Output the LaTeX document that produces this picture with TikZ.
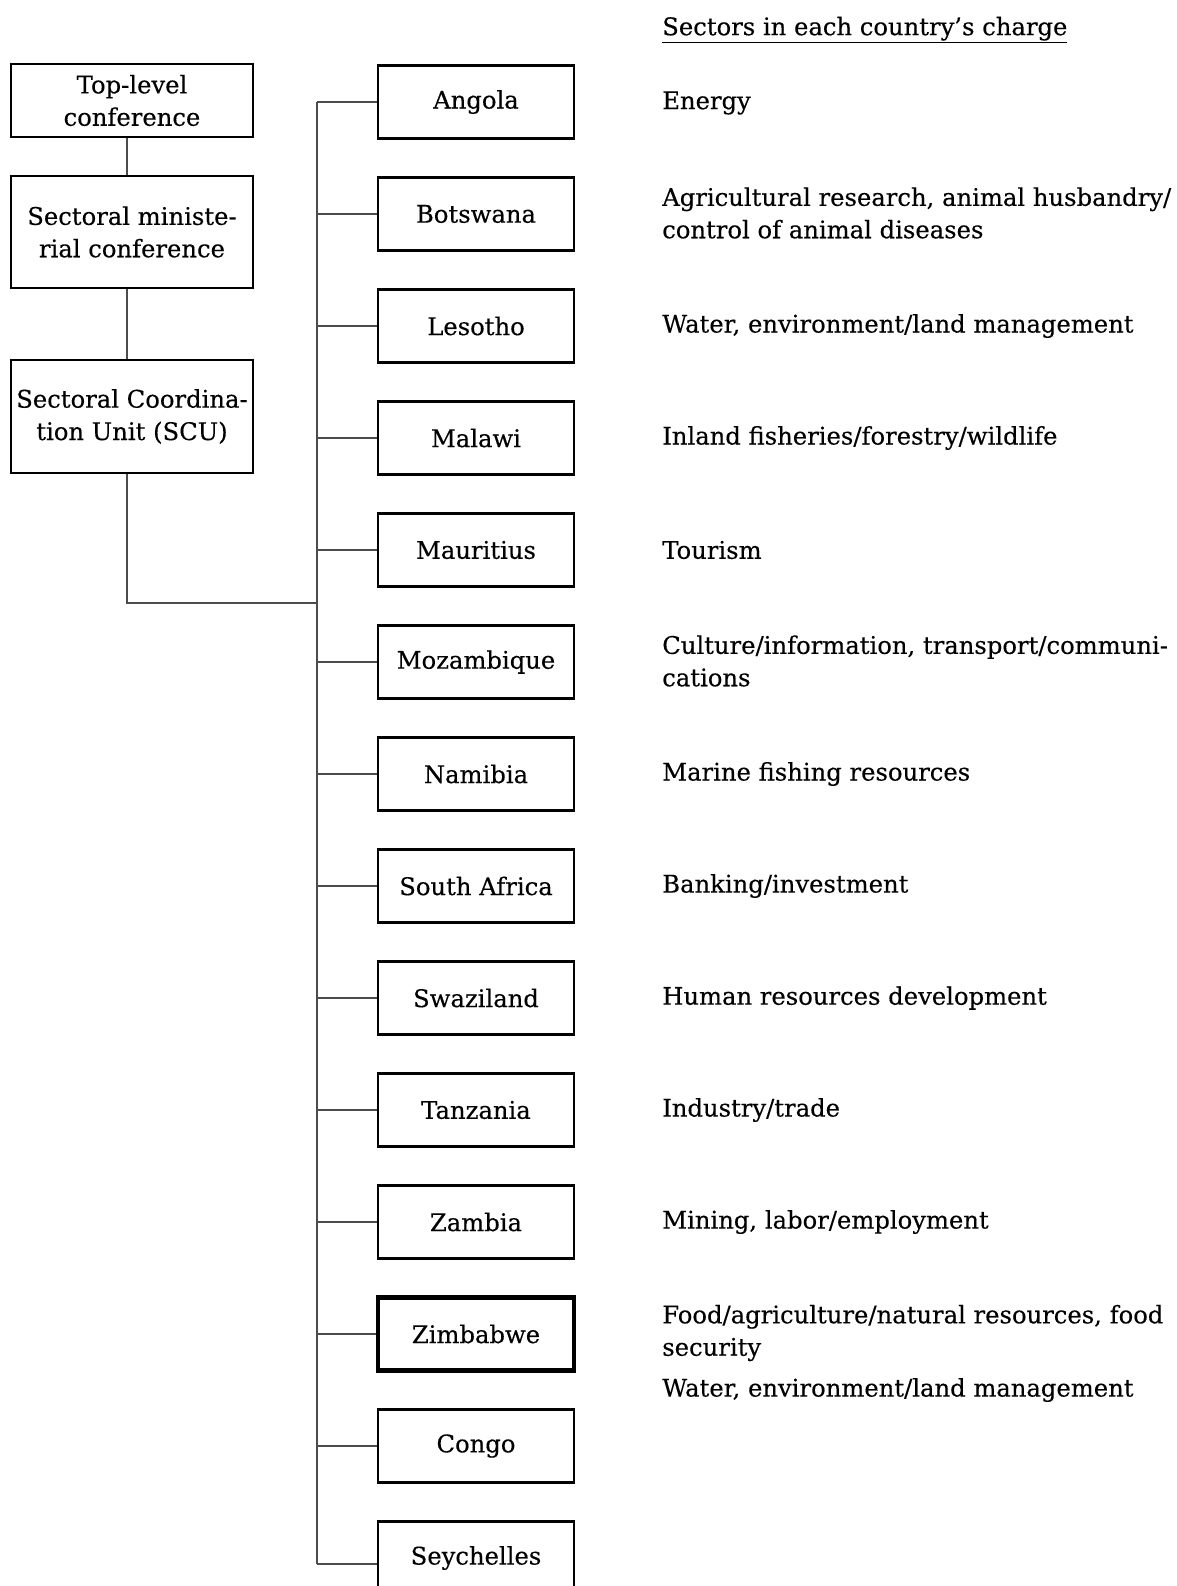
\documentclass[tikz,border=0pt]{standalone}
\usepackage{fontspec}
\setmainfont[FakeBold=0.3]{DejaVu Serif}
\newcommand\fs{\fontsize{18.2}{24.3}\selectfont}
\begin{document}
\begin{tikzpicture}[x=0.75pt,y=-0.75pt,
  box/.style={draw, line width=2.1pt, align=center, inner sep=0pt, font=\fs},
  cbox/.style={box, minimum width=147pt, minimum height=54.75pt},
  lbox/.style={box, minimum width=181.5pt},
  conn/.style={line width=1.1pt, draw=black!70},
  sect/.style={anchor=west, inner sep=0pt, align=left, font=\fs}]
\useasboundingbox (0,0) rectangle (1177,1586);
\clip (0,0) rectangle (1177,1586);
% left hierarchy
\node[lbox, minimum height=54.75pt] (top) at (132,100.5) {Top-level\\conference};
\node[lbox, minimum height=84pt] (smc) at (132,232) {Sectoral ministe-\\rial conference};
\node[lbox, minimum height=84.75pt] (scu) at (132,416.5) {Sectoral Coordina-\\tion Unit (SCU)};
% countries
\node[cbox] (c0) at (476,102) {Angola};
\node[cbox] (c1) at (476,214) {Botswana};
\node[cbox] (c2) at (476,326) {Lesotho};
\node[cbox] (c3) at (476,438) {Malawi};
\node[cbox] (c4) at (476,550) {Mauritius};
\node[cbox] (c5) at (476,662) {Mozambique};
\node[cbox] (c6) at (476,774) {Namibia};
\node[cbox] (c7) at (476,886) {South Africa};
\node[cbox] (c8) at (476,998) {Swaziland};
\node[cbox] (c9) at (476,1110) {Tanzania};
\node[cbox] (c10) at (476,1222) {Zambia};
\node[cbox, line width=3.6pt] (c11) at (476,1334) {Zimbabwe};
\node[cbox] (c12) at (476,1446) {Congo};
\node[cbox] (c13) at (476,1558) {Seychelles};
% connectors
\coordinate (cx) at (127,0);
\coordinate (ttop) at (317,102);
\coordinate (tbot) at (317,1564);
\coordinate (junc) at (317,603);
\draw[conn] (top.south -| cx) -- (smc.north -| cx);
\draw[conn] (smc.south -| cx) -- (scu.north -| cx);
\draw[conn] (scu.south -| cx) |- (junc);
\draw[conn] (ttop) -- (tbot);
\foreach \i in {0,...,12}{
  \draw[conn] (c\i.west) -- (c\i.west -| ttop);
}
\draw[conn] (tbot) -- (tbot -| c13.west);
% sectors
\node[sect] (title) at (662,30) {\underline{Sectors in each country’s charge}};
\node[sect] (s0) at (662,103) {Energy};
\node[sect] (s1) at (662,213) {Agricultural research, animal husbandry/\\control of animal diseases};
\node[sect] (s2) at (662,326) {Water, environment/land management};
\node[sect] (s3) at (662,438) {Inland fisheries/forestry/wildlife};
\node[sect] (s4) at (662,550) {Tourism};
\node[sect] (s5) at (662,661) {Culture/information, transport/communi-\\cations};
\node[sect] (s6) at (662,774) {Marine fishing resources};
\node[sect] (s7) at (662,886) {Banking/investment};
\node[sect] (s8) at (662,998) {Human resources development};
\node[sect] (s9) at (662,1110) {Industry/trade};
\node[sect] (s10) at (662,1222) {Mining, labor/employment};
\node[sect] (s11) at (662,1333) {Food/agriculture/natural resources, food\\security};
\node[sect] (s12) at (662,1390) {Water, environment/land management};
\end{tikzpicture}
\end{document}
